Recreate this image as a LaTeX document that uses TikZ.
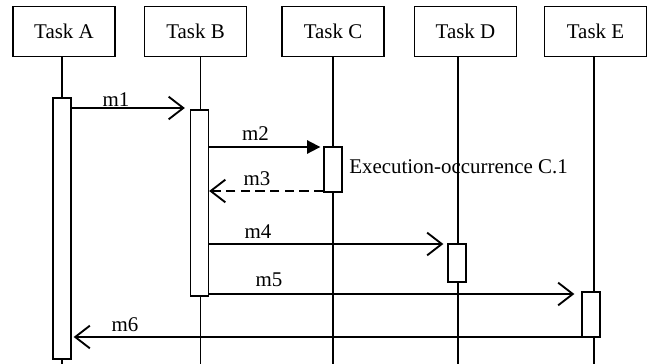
\documentclass[tikz,border=0pt]{standalone}
\usepackage{fontspec}
\setmainfont{Liberation Serif}
\usetikzlibrary{arrows.meta,calc}

\tikzset{
  task/.style={draw, line width=1pt, fill=white, inner sep=0pt,
    minimum width=76.5pt, minimum height=37.5pt,
    font=\fontsize{15.7}{18}\selectfont},
  bar/.style={draw, line width=1pt, fill=white, inner sep=0pt,
    minimum width=13.5pt},
  life/.style={line width=1.3pt},
  msg/.style={line width=1.4pt, -{Straight Barb[length=11pt,width=17pt,line width=1.4pt]}},
  call/.style={line width=1.4pt, -{Triangle[length=10pt,width=10pt]}},
  reply/.style={msg, dash pattern=on 7pt off 4pt},
  lbl/.style={anchor=base, inner sep=0pt, font=\fontsize{15.7}{18}\selectfont}
}

\begin{document}
\begin{tikzpicture}[x=0.75pt, y=-0.75pt]
\useasboundingbox (0,0) rectangle (650,364);

% lifeline heads
\node[task] (tA) at (64,31.5)    {Task A};
\node[task] (tB) at (195.5,31.5) {Task B};
\node[task] (tC) at (333,31.5)   {Task C};
\node[task] (tD) at (465.5,31.5) {Task D};
\node[task] (tE) at (595.5,31.5) {Task E};

% lifeline ends at the lower edge
\coordinate (eA) at (62,364);
\coordinate (eB) at (200.5,364);
\coordinate (eC) at (333,364);
\coordinate (eD) at (458,364);
\coordinate (eE) at (594,364);

\foreach \t in {A,B,C,D,E}
  \draw[life] (t\t.south -| e\t) -- (e\t);

% execution occurrences
\node[bar, minimum height=195.75pt] (aA) at (62,228.5)  {};
\node[bar, minimum height=139.5pt]  (aB) at (199.5,203) {};
\node[bar, minimum height=33.75pt]  (aC) at (333,169.5) {};
\node[bar, minimum height=28.5pt]   (aD) at (457,263)   {};
\node[bar, minimum height=33.75pt]  (aE) at (591,314.5) {};

% messages
\draw[msg]   (aA.east |- 0,108) -- ($(aB.west |- 0,108)+(-5,0)$);
\draw[call]  (aB.east |- 0,147) -- ($(aC.west |- 0,147)+(-3,0)$);
\draw[reply] (aC.west |- 0,191) -- (aB.east |- 0,191);
\draw[msg]   (aB.east |- 0,244) -- ($(aD.west |- 0,244)+(-4,0)$);
\draw[msg]   (aB.east |- 0,294) -- ($(aE.west |- 0,294)+(-7,0)$);
\draw[msg]   ($(aE.west |- 0,337)+(8,0)$) -- ($(aA.east |- 0,337)+(2,0)$);

% message labels
\node[lbl] (l1) at (116,106)   {m1};
\node[lbl] (l2) at (255.5,140) {m2};
\node[lbl] (l3) at (257,185)   {m3};
\node[lbl] (l4) at (258,238)   {m4};
\node[lbl] (l5) at (269,286)   {m5};
\node[lbl] (l6) at (125,331)   {m6};

\node[lbl, anchor=base west] (ex) at (349,173) {Execution-occurrence C.1};
\end{tikzpicture}
\end{document}
